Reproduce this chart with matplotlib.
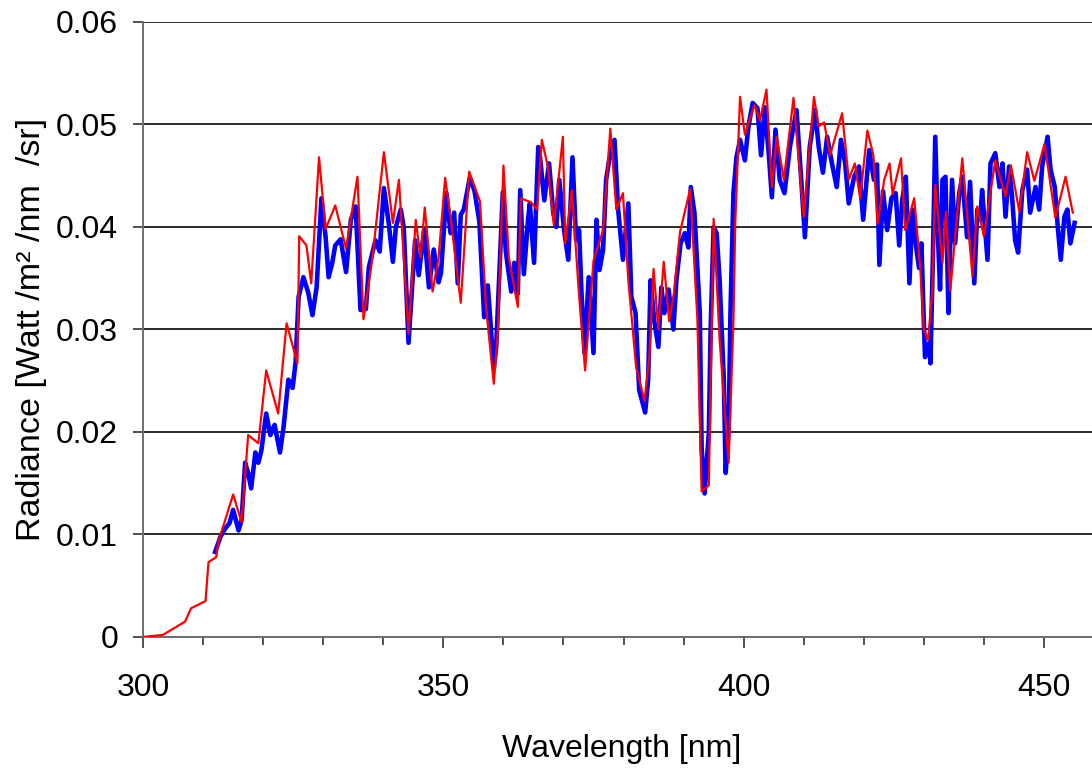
import numpy as np
import matplotlib
matplotlib.use('Agg')
import matplotlib.pyplot as plt
from matplotlib.ticker import MultipleLocator

plt.rcParams['font.family'] = ['Liberation Sans', 'DejaVu Sans']

# red spectrum (coarser sampling)
red_wl = [300.0, 303.3, 307.0, 308.0, 310.4, 310.9, 312.2, 312.5, 315.0, 316.4,
          317.5, 319.2, 320.5, 322.5, 323.9, 325.7, 326.0, 327.2, 328.0, 329.3,
          330.4, 332.0, 333.8, 335.7, 336.7, 338.2, 340.1, 341.6, 342.6, 344.2,
          345.4, 346.2, 346.9, 348.2, 349.2, 350.3, 351.3, 352.9, 354.3, 356.1,
          357.1, 358.4, 359.1, 360.0, 360.9, 362.4, 362.9, 364.6, 365.6, 366.4,
          367.4, 368.4, 369.9, 370.3, 371.4, 372.6, 373.6, 375.0, 376.6, 377.8,
          378.8, 379.9, 380.8, 382.1, 383.5, 384.3, 385.0, 385.8, 386.7, 387.6,
          388.4, 389.4, 391.1, 392.3, 393.0, 394.2, 395.0, 396.0, 397.5, 398.3,
          398.6, 399.4, 400.2, 401.8, 402.7, 403.8, 404.7, 405.5, 406.7, 408.3,
          410.0, 411.7, 412.5, 413.4, 414.4, 416.4, 417.5, 418.5, 419.4, 420.6,
          421.6, 422.3, 423.4, 424.3, 424.8, 426.2, 426.9, 428.4, 429.4, 430.0,
          430.7, 431.4, 431.9, 433.1, 433.7, 434.4, 436.4, 438.1, 438.9, 440.0,
          441.9, 443.6, 444.5, 445.9, 447.2, 448.4, 450.1, 451.9, 453.6, 454.8]
red_rad = [0.0, 0.0002, 0.0015, 0.0028, 0.0035, 0.0073, 0.0078, 0.0092, 0.0139, 0.0112,
           0.0197, 0.0189, 0.0260, 0.0218, 0.0306, 0.0267, 0.0391, 0.0382, 0.0345, 0.0468,
           0.0398, 0.0421, 0.0379, 0.0449, 0.0310, 0.0370, 0.0473, 0.0404, 0.0446, 0.0296,
           0.0407, 0.0370, 0.0419, 0.0337, 0.0370, 0.0448, 0.0405, 0.0326, 0.0454, 0.0425,
           0.0322, 0.0247, 0.0300, 0.0460, 0.0370, 0.0322, 0.0428, 0.0424, 0.0417, 0.0485,
           0.0459, 0.0402, 0.0488, 0.0384, 0.0436, 0.0333, 0.0260, 0.0367, 0.0397, 0.0496,
           0.0417, 0.0433, 0.0348, 0.0263, 0.0230, 0.0274, 0.0359, 0.0300, 0.0366, 0.0308,
           0.0336, 0.0395, 0.0437, 0.0310, 0.0142, 0.0148, 0.0408, 0.0290, 0.0170, 0.0309,
           0.0404, 0.0527, 0.0490, 0.0519, 0.0504, 0.0534, 0.0439, 0.0488, 0.0446, 0.0526,
           0.0410, 0.0527, 0.0498, 0.0502, 0.0470, 0.0511, 0.0446, 0.0462, 0.0428, 0.0494,
           0.0470, 0.0403, 0.0446, 0.0462, 0.0432, 0.0467, 0.0397, 0.0428, 0.0360, 0.0300,
           0.0290, 0.0336, 0.0441, 0.0365, 0.0415, 0.0338, 0.0467, 0.0352, 0.0420, 0.0391,
           0.0465, 0.0430, 0.0460, 0.0415, 0.0473, 0.0445, 0.0481, 0.0409, 0.0449, 0.0414]

# blue spectrum (finer sampling)
blue_wl = [312.0, 312.9, 313.7, 314.4, 315.0, 315.9, 316.4, 317.0, 317.5, 318.0,
           318.7, 319.2, 319.7, 320.5, 321.2, 321.9, 322.8, 323.4, 324.2, 324.9,
           325.4, 325.9, 326.7, 327.5, 328.2, 328.9, 329.7, 330.4, 330.9, 331.5,
           332.0, 332.9, 333.8, 334.6, 335.4, 336.2, 337.1, 337.6, 338.7, 339.4,
           340.1, 340.9, 341.6, 342.1, 342.9, 343.4, 344.2, 344.9, 345.3, 345.9,
           346.8, 347.6, 348.4, 349.2, 349.6, 350.5, 351.2, 351.8, 352.4, 352.9,
           353.4, 354.4, 355.2, 356.0, 356.8, 357.4, 358.4, 358.8, 359.9, 360.4,
           361.3, 361.8, 362.4, 362.8, 363.4, 364.1, 364.4, 365.1, 365.8, 366.1,
           366.8, 367.6, 368.3, 368.8, 369.3, 370.1, 370.8, 371.5, 372.1, 372.6,
           373.0, 373.5, 374.2, 375.0, 375.5, 376.0, 376.6, 377.1, 377.6, 378.5,
           379.1, 379.9, 380.8, 381.3, 382.0, 382.6, 383.6, 384.1, 384.5, 385.1,
           385.8, 386.3, 386.8, 387.5, 388.3, 388.8, 389.5, 390.2, 390.8, 391.2,
           391.8, 392.7, 393.0, 393.5, 394.2, 394.5, 395.0, 395.5, 396.0, 396.7,
           397.0, 397.5, 397.8, 398.3, 398.8, 399.4, 400.2, 400.8, 401.5, 402.3,
           402.9, 403.5, 404.2, 404.7, 405.3, 406.0, 406.8, 407.7, 408.8, 409.7,
           410.2, 411.0, 411.9, 412.5, 413.2, 413.9, 414.7, 415.5, 416.2, 416.9,
           417.5, 418.4, 419.2, 419.9, 420.9, 421.7, 422.2, 422.6, 423.2, 423.9,
           424.6, 425.3, 425.9, 426.4, 427.0, 427.6, 428.1, 428.6, 429.2, 429.6,
           429.9, 430.2, 430.9, 431.1, 431.5, 431.9, 432.4, 432.7, 433.1, 433.6,
           434.1, 434.4, 434.7, 435.2, 435.9, 436.4, 437.2, 437.7, 438.4, 438.9,
           439.4, 439.7, 440.6, 441.1, 441.9, 442.6, 443.1, 443.6, 444.2, 444.7,
           445.2, 445.7, 446.4, 447.2, 447.7, 448.6, 449.2, 449.7, 450.6, 451.1,
           451.8, 452.3, 452.8, 453.4, 453.9, 454.4, 455.1]
blue_rad = [0.0083, 0.0098, 0.0106, 0.0111, 0.0124, 0.0104, 0.0114, 0.0170, 0.0160, 0.0145,
            0.0180, 0.0170, 0.0182, 0.0218, 0.0197, 0.0207, 0.0180, 0.0205, 0.0251, 0.0243,
            0.0268, 0.0332, 0.0351, 0.0336, 0.0314, 0.0341, 0.0428, 0.0390, 0.0351, 0.0365,
            0.0382, 0.0388, 0.0356, 0.0407, 0.0420, 0.0319, 0.0320, 0.0361, 0.0387, 0.0376,
            0.0438, 0.0404, 0.0366, 0.0400, 0.0417, 0.0400, 0.0287, 0.0351, 0.0387, 0.0353,
            0.0397, 0.0341, 0.0378, 0.0346, 0.0355, 0.0433, 0.0394, 0.0414, 0.0345, 0.0412,
            0.0417, 0.0448, 0.0435, 0.0405, 0.0312, 0.0343, 0.0262, 0.0283, 0.0434, 0.0376,
            0.0337, 0.0365, 0.0335, 0.0436, 0.0354, 0.0407, 0.0423, 0.0365, 0.0478, 0.0468,
            0.0426, 0.0462, 0.0414, 0.0400, 0.0446, 0.0397, 0.0368, 0.0468, 0.0387, 0.0397,
            0.0336, 0.0277, 0.0351, 0.0277, 0.0407, 0.0358, 0.0378, 0.0446, 0.0465, 0.0485,
            0.0417, 0.0368, 0.0423, 0.0332, 0.0316, 0.0241, 0.0219, 0.0251, 0.0348, 0.0309,
            0.0283, 0.0341, 0.0316, 0.0339, 0.0300, 0.0348, 0.0384, 0.0394, 0.0380, 0.0439,
            0.0414, 0.0316, 0.0185, 0.0140, 0.0199, 0.0300, 0.0400, 0.0394, 0.0348, 0.0251,
            0.0160, 0.0202, 0.0316, 0.0433, 0.0468, 0.0485, 0.0465, 0.0498, 0.0521, 0.0516,
            0.0470, 0.0517, 0.0470, 0.0429, 0.0495, 0.0446, 0.0433, 0.0478, 0.0514, 0.0436,
            0.0390, 0.0478, 0.0514, 0.0478, 0.0453, 0.0488, 0.0462, 0.0439, 0.0485, 0.0462,
            0.0423, 0.0449, 0.0459, 0.0407, 0.0475, 0.0446, 0.0461, 0.0363, 0.0435, 0.0397,
            0.0428, 0.0433, 0.0382, 0.0426, 0.0449, 0.0345, 0.0417, 0.0386, 0.0360, 0.0384,
            0.0326, 0.0273, 0.0287, 0.0267, 0.0368, 0.0488, 0.0384, 0.0339, 0.0446, 0.0449,
            0.0316, 0.0384, 0.0446, 0.0384, 0.0433, 0.0449, 0.0390, 0.0444, 0.0345, 0.0417,
            0.0407, 0.0436, 0.0368, 0.0462, 0.0472, 0.0439, 0.0462, 0.0410, 0.0459, 0.0429,
            0.0387, 0.0375, 0.0436, 0.0456, 0.0414, 0.0439, 0.0417, 0.0459, 0.0488, 0.0456,
            0.0439, 0.0400, 0.0368, 0.0410, 0.0417, 0.0384, 0.0404]

y_ticks = [0, 0.01, 0.02, 0.03, 0.04, 0.05, 0.06]
y_ticklabels = ['0', '0.01', '0.02', '0.03', '0.04', '0.05', '0.06']
x_ticks = [300, 350, 400, 450]

fig = plt.figure(figsize=(10.92, 7.69), dpi=100)
ax = fig.add_axes([0.131, 0.1717, 0.869, 0.7997])

ax.plot(blue_wl, blue_rad, color='#0000ff', lw=3.3, zorder=3)
ax.plot(red_wl, red_rad, color='#ff0000', lw=1.6, zorder=4)

ax.set_xlim(300, 458)
ax.set_ylim(0, 0.06)
ax.set_xticks(x_ticks)
ax.xaxis.set_minor_locator(MultipleLocator(10))
ax.set_yticks(y_ticks)
ax.set_yticklabels(y_ticklabels)

ax.grid(axis='y', color='#1a1a1a', lw=1.3, zorder=1)
ax.set_axisbelow(True)

for s in ['top', 'right']:
    ax.spines[s].set_visible(False)
for s in ['left', 'bottom']:
    ax.spines[s].set_color('#6e6e6e')
    ax.spines[s].set_linewidth(1.4)

ax.tick_params(axis='y', which='major', length=7, width=1.2, color='#333333',
               labelsize=23, pad=11)
ax.tick_params(axis='x', which='major', length=8, width=1.2, color='#333333',
               labelsize=23, pad=18)
ax.tick_params(axis='x', which='minor', length=5.5, width=1.2, color='#333333')

ax.set_xlabel('Wavelength [nm]', fontsize=23)
ax.set_ylabel('Radiance [Watt /m\u00b2 /nm  /sr]', fontsize=24.5)
ax.xaxis.set_label_coords(0.504, -0.157)
ax.yaxis.set_label_coords(-0.101, 0.5)

plt.savefig('out.png', dpi=100)
